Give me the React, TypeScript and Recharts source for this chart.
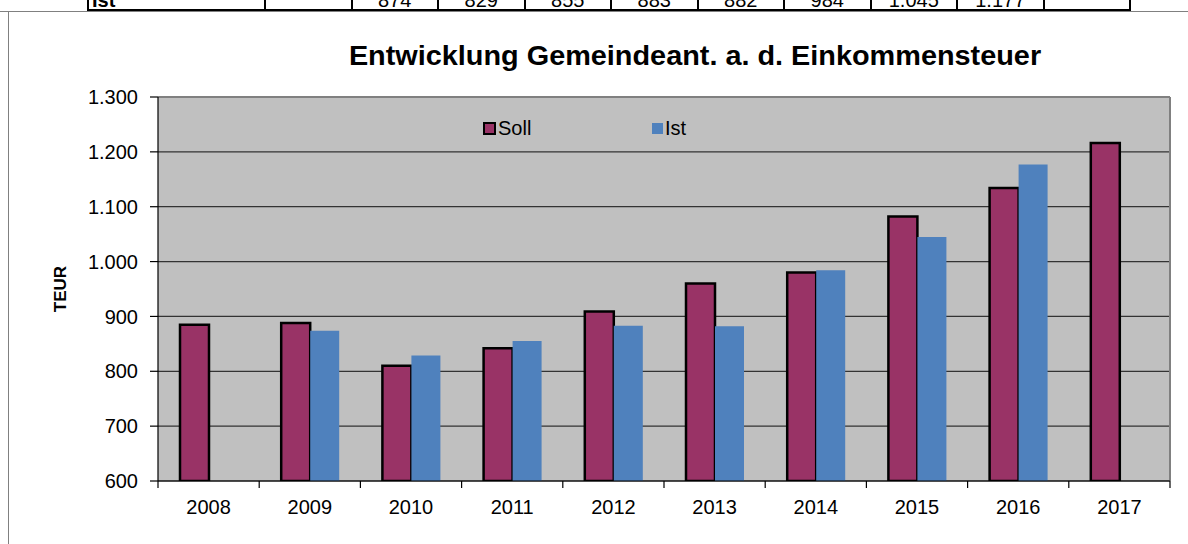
import React from 'react';
import {
  Bar,
  BarChart,
  CartesianGrid,
  Legend,
  ReferenceLine,
  XAxis,
  YAxis,
} from 'recharts';

// Werte (TEUR)
const years = ['2008', '2009', '2010', '2011', '2012', '2013', '2014', '2015', '2016', '2017'];
const soll = [885, 888, 810, 842, 909, 960, 980, 1082, 1134, 1216];
const ist: (number | null)[] = [null, 874, 829, 855, 883, 882, 984, 1045, 1177, null];
const yTicks = [600, 700, 800, 900, 1000, 1100, 1200, 1300];

const SOLL_COLOR = '#993366';
const IST_COLOR = '#4f81bd';
const FONT = '"Liberation Sans", Arial, sans-serif';

const data = years.map((year, i) => ({ year, Soll: soll[i], Ist: ist[i] }));

// deutsche Tausendertrennung: 1300 -> "1.300"
const fmt = (v: number) =>
  v >= 1000 ? `${Math.floor(v / 1000)}.${String(v % 1000).padStart(3, '0')}` : String(v);

function YearTick(props: any) {
  const { x, y, payload, index, visibleTicksCount } = props;
  const half = payload?.offset ?? 50.6;
  const last = index === visibleTicksCount - 1;
  return (
    <g>
      <line x1={x - half} y1={y} x2={x - half} y2={y + 7} stroke="#000" strokeWidth={1.2} />
      {last && <line x1={x + half} y1={y} x2={x + half} y2={y + 7} stroke="#000" strokeWidth={1.2} />}
      <text x={x} y={y + 33} textAnchor="middle" fill="#000" fontSize={20} fontFamily={FONT}>
        {payload.value}
      </text>
    </g>
  );
}

function LegendContent() {
  const item = (label: string, color: string, border: boolean, width?: number) => (
    <div style={{ display: 'flex', alignItems: 'center', width }}>
      <span
        style={{
          display: 'inline-block',
          width: border ? 9 : 11,
          height: border ? 9 : 11,
          background: color,
          border: border ? '2px solid #000' : 'none',
          marginRight: 2,
        }}
      />
      <span style={{ fontSize: 20, fontFamily: FONT, color: '#000', lineHeight: '22px' }}>{label}</span>
    </div>
  );
  return (
    <div style={{ display: 'flex' }}>
      {item('Soll', SOLL_COLOR, true, 169)}
      {item('Ist', IST_COLOR, false)}
    </div>
  );
}

function IstRow() {
  const cellW = 86.5;
  return (
    <div
      style={{
        position: 'absolute',
        left: 87,
        top: -11,
        height: 20,
        display: 'flex',
        borderBottom: '2px solid #000',
        fontFamily: FONT,
        fontSize: 20,
        lineHeight: '22px',
        color: '#000',
      }}
    >
      <div style={{ width: 172, borderLeft: '2px solid #000', paddingLeft: 3, fontWeight: 'bold' }}>Ist</div>
      {ist.map((v, i) => (
        <div
          key={years[i]}
          style={{ width: cellW, borderLeft: '2px solid #000', textAlign: 'center', boxSizing: 'border-box' }}
        >
          {v == null ? '' : fmt(v)}
        </div>
      ))}
      <div style={{ width: 0, borderLeft: '2px solid #000' }} />
    </div>
  );
}

export default function App() {
  return (
    <div
      style={{
        position: 'fixed',
        left: 0,
        top: 0,
        width: 1188,
        height: 544,
        overflow: 'hidden',
        background: '#fff',
        fontFamily: FONT,
      }}
    >
      <IstRow />
      <div style={{ position: 'absolute', left: 0, top: 11, width: 1188, borderTop: '1px solid #808080' }} />
      <div style={{ position: 'absolute', left: 8, top: 11, height: 540, borderLeft: '1px solid #808080' }} />
      <div
        style={{
          position: 'absolute',
          left: 695,
          top: 43,
          transform: 'translateX(-50%) scaleX(1.068)',
          whiteSpace: 'nowrap',
          fontSize: 27,
          lineHeight: '27px',
          fontWeight: 'bold',
          color: '#000',
        }}
      >
        Entwicklung Gemeindeant. a. d. Einkommensteuer
      </div>
      <div style={{ position: 'absolute', left: 0, top: 0 }}>
        <BarChart
          width={1188}
          height={544}
          data={data}
          margin={{ top: 97, right: 18, bottom: 33, left: 8 }}
          barGap={0}
          barSize={29}
        >
          <CartesianGrid
            vertical={false}
            stroke="#333"
            strokeWidth={1.2}
            fill="#c0c0c0"
            fillOpacity={1}
          />
          <CartesianGrid
            horizontal={false}
            stroke="#808080"
            strokeWidth={2}
            verticalCoordinatesGenerator={({ offset }: any) => [offset.left + offset.width]}
          />
          <ReferenceLine y={1300} stroke="#808080" strokeWidth={2} />
          <XAxis
            dataKey="year"
            axisLine={{ stroke: '#000', strokeWidth: 1.2 }}
            tickLine={false}
            tickSize={0}
            tickMargin={0}
            height={30}
            interval={0}
            tick={<YearTick />}
          />
          <YAxis
            domain={[600, 1300]}
            ticks={yTicks}
            allowDataOverflow
            width={150}
            axisLine={{ stroke: '#000', strokeWidth: 1.2 }}
            tickLine={{ stroke: '#000', strokeWidth: 1.2 }}
            tickSize={8}
            tickMargin={12}
            tickFormatter={fmt}
            tick={{ fill: '#000', fontSize: 20, fontFamily: FONT }}
            label={{
              value: 'TEUR',
              angle: -90,
              position: 'insideLeft',
              offset: 52,
              style: { textAnchor: 'middle', fontWeight: 'bold', fontSize: 17, fill: '#000', fontFamily: FONT },
            }}
          />
          <Legend
            layout="horizontal"
            verticalAlign="middle"
            align="center"
            content={<LegendContent />}
            wrapperStyle={{ position: 'absolute', left: 483, top: 117, width: 260 }}
          />
          <Bar dataKey="Soll" fill={SOLL_COLOR} stroke="#000" strokeWidth={2.5} isAnimationActive={false} />
          <Bar dataKey="Ist" fill={IST_COLOR} isAnimationActive={false} />
        </BarChart>
      </div>
    </div>
  );
}
